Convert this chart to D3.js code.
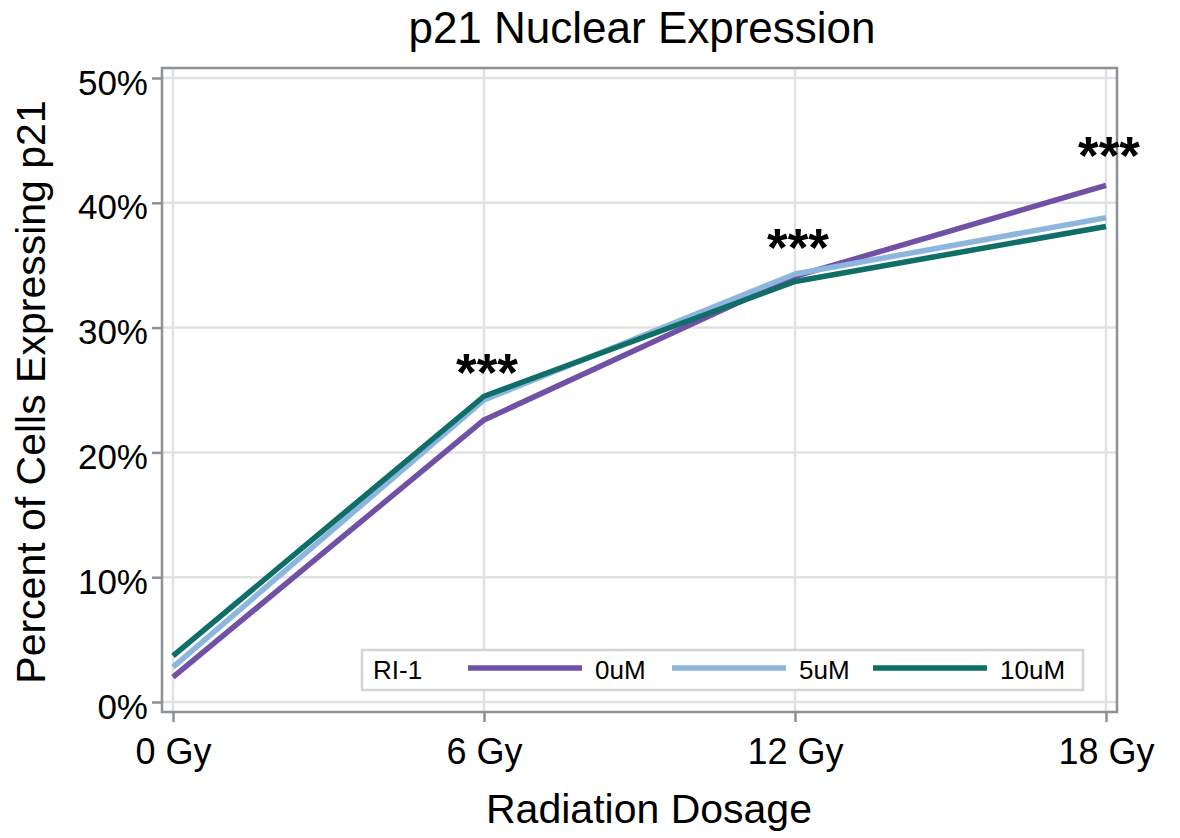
<!DOCTYPE html>
<html><head><meta charset="utf-8">
<script src="https://cdn.jsdelivr.net/npm/d3@7"></script>
<style>
html,body{margin:0;padding:0;background:#fff;}
text{font-family:"Liberation Sans",Arial,sans-serif;fill:#000;}
</style></head>
<body><svg id="chart" width="1180" height="838"></svg>
<script>
const doses = [0, 6, 12, 18];
const doseLabels = ["0 Gy", "6 Gy", "12 Gy", "18 Gy"];
const yTicks = [0, 10, 20, 30, 40, 50];
const seriesNames = ["0uM", "5uM", "10uM"];
const seriesColors = ["#7151a6", "#8db6df", "#106e69"];
const values0uM = [2.0, 22.6, 34.1, 41.4];
const values5uM = [2.8, 24.2, 34.3, 38.8];
const values10uM = [3.7, 24.5, 33.7, 38.1];
const starDoses = [6, 12, 18];
const starLevels = [24.95, 34.9, 42.3];

const series = [values0uM, values5uM, values10uM];
const svg = d3.select("#chart");
const frame = {left:162, right:1117, top:68, bottom:712};
const x = d3.scaleLinear().domain([0,18]).range([173,1106]);
const y = d3.scaleLinear().domain([0,50]).range([702,78]);
const gridC = "#e2e2e2", axisC = "#8c9196";
const FF = "Liberation Sans, Arial, sans-serif";

// gridlines
svg.append("g").selectAll("line").data(yTicks).join("line")
  .attr("x1", frame.left).attr("x2", frame.right)
  .attr("y1", d=>y(d)).attr("y2", d=>y(d))
  .attr("stroke", gridC).attr("stroke-width", 2.5);
svg.append("g").selectAll("line").data(doses).join("line")
  .attr("x1", d=>x(d)).attr("x2", d=>x(d))
  .attr("y1", frame.top).attr("y2", frame.bottom)
  .attr("stroke", gridC).attr("stroke-width", 2.5);

// frame
svg.append("rect").attr("x", frame.left).attr("y", frame.top)
  .attr("width", frame.right-frame.left).attr("height", frame.bottom-frame.top)
  .attr("fill","none").attr("stroke", axisC).attr("stroke-width", 2.5);

// y axis
const yAxis = d3.axisLeft(y).tickValues(yTicks).tickFormat(d=>d+"%").tickSize(10).tickPadding(4);
const yg = svg.append("g").attr("transform",`translate(${frame.left},0)`).call(yAxis);
yg.select(".domain").remove();
yg.selectAll(".tick line").attr("stroke", axisC).attr("stroke-width", 2.5);
yg.selectAll(".tick text").attr("font-size", 35).attr("font-family",FF).attr("fill","#000").attr("dy","0.46em");

// x axis
const xAxis = d3.axisBottom(x).tickValues(doses).tickFormat((d,i)=>doseLabels[i]).tickSize(10).tickPadding(16);
const xg = svg.append("g").attr("transform",`translate(0,${frame.bottom})`).call(xAxis);
xg.select(".domain").remove();
xg.selectAll(".tick line").attr("stroke", axisC).attr("stroke-width", 2.5);
xg.selectAll(".tick text").attr("font-size", 36).attr("font-family",FF).attr("fill","#000");

// lines
const line = d3.line().x((d,i)=>x(doses[i])).y(d=>y(d));
svg.append("g").selectAll("path").data(series).join("path")
  .attr("d", d=>line(d)).attr("fill","none")
  .attr("stroke",(d,i)=>seriesColors[i]).attr("stroke-width",5.5)
  .attr("stroke-linejoin","round");

// stars
svg.append("g").selectAll("text").data(starDoses).join("text")
  .attr("x", d=>x(d)+3).attr("y",(d,i)=>y(starLevels[i]))
  .attr("text-anchor","middle").attr("font-size",53).attr("font-weight","bold")
  .text("***");

// legend
const lg = svg.append("g");
lg.append("rect").attr("x",362).attr("y",650).attr("width",721).attr("height",40)
  .attr("fill","#fff").attr("stroke","#d4d4d4").attr("stroke-width",2.5);
lg.append("text").attr("x",373).attr("y",679).attr("font-size",26).text("RI-1");
const legX = [468, 672, 873];
seriesNames.forEach((n,i)=>{
  lg.append("line").attr("x1",legX[i]).attr("x2",legX[i]+114).attr("y1",668).attr("y2",668)
    .attr("stroke",seriesColors[i]).attr("stroke-width",5.5);
  lg.append("text").attr("x",legX[i]+127).attr("y",679).attr("font-size",26).text(n);
});

// titles
svg.append("text").attr("x",642).attr("y",43).attr("text-anchor","middle").attr("font-size",44).text("p21 Nuclear Expression");
svg.append("text").attr("x",649).attr("y",823).attr("text-anchor","middle").attr("font-size",41).text("Radiation Dosage");
svg.append("text").attr("transform","translate(45,392) rotate(-90)").attr("text-anchor","middle").attr("font-size",41).text("Percent of Cells Expressing p21");
</script></body></html>
